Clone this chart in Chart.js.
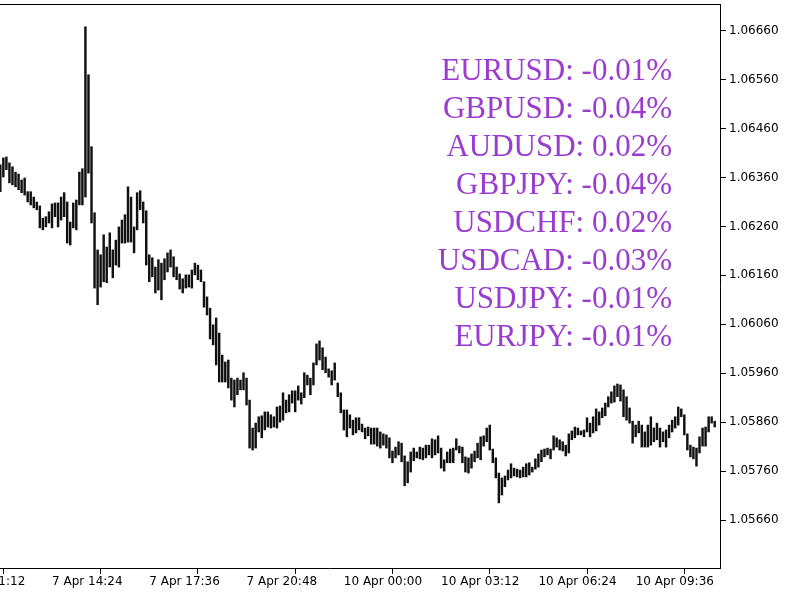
<!DOCTYPE html>
<html>
<head>
<meta charset="utf-8">
<script src="https://cdn.jsdelivr.net/npm/chart.js@4/dist/chart.umd.min.js"></script>
<style>
  html, body { margin: 0; padding: 0; background: #fff; overflow: hidden; width: 800px; height: 600px; }
  #wrap { position: absolute; left: -60px; top: 0; width: 860px; height: 600px; }
</style>
</head>
<body>
<div id="wrap"><canvas id="myChart" width="860" height="600"></canvas></div>
<script>
// M6 bars, high / low per bar
const highs = [
  1.06386, 1.06400, 1.06402, 1.06390, 1.06382, 1.06371, 1.06367, 1.06355, 1.06359, 1.06331,
  1.06331, 1.06320, 1.06310, 1.06302, 1.06277, 1.06280, 1.06290, 1.06306, 1.06308, 1.06308,
  1.06320, 1.06329, 1.06310, 1.06269, 1.06308, 1.06314, 1.06371, 1.06378, 1.06668, 1.06570,
  1.06423, 1.06288, 1.06212, 1.06202, 1.06243, 1.06218, 1.06247, 1.06212, 1.06232, 1.06259,
  1.06273, 1.06284, 1.06341, 1.06320, 1.06259, 1.06329, 1.06333, 1.06310, 1.06292, 1.06202,
  1.06196, 1.06177, 1.06192, 1.06185, 1.06194, 1.06206, 1.06212, 1.06198, 1.06177, 1.06163,
  1.06153, 1.06161, 1.06161, 1.06171, 1.06185, 1.06181, 1.06171, 1.06147, 1.06116, 1.06093,
  1.06059, 1.06073, 1.06042, 1.05997, 1.05983, 1.05987, 1.05950, 1.05946, 1.05950, 1.05946,
  1.05961, 1.05950, 1.05905, 1.05848, 1.05858, 1.05871, 1.05873, 1.05881, 1.05881, 1.05875,
  1.05871, 1.05891, 1.05893, 1.05920, 1.05905, 1.05916, 1.05924, 1.05924, 1.05934, 1.05920,
  1.05961, 1.05956, 1.05950, 1.05981, 1.06020, 1.06026, 1.06012, 1.05993, 1.05969, 1.05965,
  1.05981, 1.05940, 1.05920, 1.05885, 1.05885, 1.05875, 1.05864, 1.05869, 1.05869, 1.05856,
  1.05848, 1.05850, 1.05848, 1.05848, 1.05848, 1.05840, 1.05836, 1.05834, 1.05828, 1.05801,
  1.05809, 1.05820, 1.05817, 1.05791, 1.05779, 1.05799, 1.05807, 1.05799, 1.05809, 1.05807,
  1.05813, 1.05813, 1.05826, 1.05824, 1.05832, 1.05807, 1.05783, 1.05799, 1.05805, 1.05807,
  1.05826, 1.05811, 1.05809, 1.05789, 1.05787, 1.05795, 1.05801, 1.05817, 1.05830, 1.05832,
  1.05848, 1.05854, 1.05805, 1.05787, 1.05756, 1.05746, 1.05750, 1.05762, 1.05775, 1.05766,
  1.05764, 1.05762, 1.05768, 1.05775, 1.05777, 1.05768, 1.05785, 1.05795, 1.05803, 1.05805,
  1.05807, 1.05805, 1.05832, 1.05828, 1.05824, 1.05820, 1.05813, 1.05836, 1.05842, 1.05850,
  1.05848, 1.05842, 1.05844, 1.05869, 1.05858, 1.05871, 1.05887, 1.05881, 1.05889, 1.05899,
  1.05912, 1.05922, 1.05934, 1.05938, 1.05936, 1.05926, 1.05912, 1.05889, 1.05862, 1.05854,
  1.05862, 1.05854, 1.05840, 1.05854, 1.05871, 1.05848, 1.05858, 1.05848, 1.05840, 1.05844,
  1.05854, 1.05864, 1.05871, 1.05891, 1.05887, 1.05875, 1.05836, 1.05813, 1.05809, 1.05807,
  1.05830, 1.05848, 1.05850, 1.05871, 1.05871, 1.05862
]
const lows = [
  1.06331, 1.06361, 1.06376, 1.06349, 1.06345, 1.06341, 1.06335, 1.06329, 1.06324, 1.06310,
  1.06304, 1.06298, 1.06294, 1.06257, 1.06253, 1.06259, 1.06267, 1.06257, 1.06280, 1.06259,
  1.06273, 1.06280, 1.06226, 1.06222, 1.06257, 1.06253, 1.06304, 1.06304, 1.06320, 1.06369,
  1.06267, 1.06134, 1.06100, 1.06136, 1.06147, 1.06145, 1.06177, 1.06155, 1.06181, 1.06177,
  1.06226, 1.06226, 1.06228, 1.06228, 1.06206, 1.06253, 1.06294, 1.06267, 1.06181, 1.06147,
  1.06157, 1.06124, 1.06130, 1.06110, 1.06151, 1.06167, 1.06177, 1.06157, 1.06151, 1.06132,
  1.06124, 1.06134, 1.06136, 1.06134, 1.06161, 1.06151, 1.06147, 1.06095, 1.06079, 1.06030,
  1.06018, 1.05977, 1.05942, 1.05942, 1.05942, 1.05930, 1.05905, 1.05891, 1.05916, 1.05926,
  1.05926, 1.05895, 1.05807, 1.05803, 1.05807, 1.05840, 1.05828, 1.05844, 1.05850, 1.05848,
  1.05850, 1.05848, 1.05860, 1.05864, 1.05879, 1.05881, 1.05899, 1.05881, 1.05905, 1.05897,
  1.05910, 1.05936, 1.05916, 1.05936, 1.05977, 1.05987, 1.05967, 1.05961, 1.05952, 1.05936,
  1.05946, 1.05912, 1.05879, 1.05844, 1.05830, 1.05848, 1.05834, 1.05838, 1.05844, 1.05840,
  1.05826, 1.05832, 1.05815, 1.05815, 1.05811, 1.05807, 1.05813, 1.05807, 1.05787, 1.05777,
  1.05787, 1.05793, 1.05779, 1.05730, 1.05736, 1.05758, 1.05781, 1.05787, 1.05785, 1.05783,
  1.05787, 1.05793, 1.05787, 1.05793, 1.05797, 1.05766, 1.05760, 1.05777, 1.05777, 1.05777,
  1.05803, 1.05797, 1.05777, 1.05758, 1.05756, 1.05766, 1.05779, 1.05787, 1.05783, 1.05811,
  1.05820, 1.05803, 1.05777, 1.05746, 1.05695, 1.05711, 1.05728, 1.05742, 1.05746, 1.05750,
  1.05748, 1.05746, 1.05748, 1.05748, 1.05752, 1.05758, 1.05764, 1.05768, 1.05779, 1.05789,
  1.05793, 1.05785, 1.05803, 1.05809, 1.05803, 1.05801, 1.05791, 1.05797, 1.05824, 1.05828,
  1.05834, 1.05834, 1.05830, 1.05840, 1.05830, 1.05838, 1.05842, 1.05854, 1.05869, 1.05873,
  1.05891, 1.05899, 1.05901, 1.05912, 1.05903, 1.05871, 1.05864, 1.05858, 1.05817, 1.05830,
  1.05838, 1.05809, 1.05809, 1.05809, 1.05813, 1.05820, 1.05824, 1.05809, 1.05820, 1.05809,
  1.05828, 1.05840, 1.05848, 1.05854, 1.05871, 1.05834, 1.05803, 1.05789, 1.05785, 1.05770,
  1.05797, 1.05811, 1.05811, 1.05840, 1.05858, 1.05850
]

// time axis: bar index of each label
const tickBars = [-15, 17, 49, 81, 113, 145, 177, 209]
const tickLabels = ['7 Apr 11:12', '7 Apr 14:24', '7 Apr 17:36', '7 Apr 20:48',
  '10 Apr 00:00', '10 Apr 03:12', '10 Apr 06:24', '10 Apr 09:36']
const priceTicks = [1.0566, 1.0576, 1.0586, 1.0596, 1.0606, 1.0616, 1.0626, 1.0636, 1.0646, 1.0656, 1.0666]

// overlay text
const pairs = ['EURUSD', 'GBPUSD', 'AUDUSD', 'GBPJPY', 'USDCHF', 'USDCAD', 'USDJPY', 'EURJPY']
const changes = ['-0.01%', '-0.04%', '0.02%', '-0.04%', '0.02%', '-0.03%', '-0.01%', '-0.01%']

const axisFont = { family: 'DejaVu Sans', size: 12 }

const overlay = {
  id: 'overlay',
  afterDraw(chart) {
    const ctx = chart.ctx
    const a = chart.chartArea
    ctx.save()
    // top frame line
    ctx.strokeStyle = '#000'
    ctx.lineWidth = 1
    ctx.beginPath()
    ctx.moveTo(a.left, a.top + 0.5)
    ctx.lineTo(a.right, a.top + 0.5)
    ctx.stroke()
    // change list
    ctx.fillStyle = '#9a3ccf'
    ctx.font = '31px "Liberation Serif"'
    ctx.textAlign = 'right'
    ctx.textBaseline = 'alphabetic'
    for (let i = 0; i < pairs.length; i++) {
      ctx.fillText(pairs[i] + ': ' + changes[i], a.right - 48, 80 + 38 * i)
    }
    ctx.restore()
  }
}

const ctx = document.getElementById('myChart').getContext('2d')
const chart = new Chart(ctx, {
  type: 'bar',
  data: {
    datasets: [{
      data: highs.map((h, i) => ({ x: i, y: [lows[i], h] })),
      backgroundColor: '#111',
      borderWidth: 0,
      barThickness: 1.8,
      minBarLength: 1
    }]
  },
  options: {
    responsive: false,
    animation: false,
    devicePixelRatio: 1,
    layout: { padding: { top: 4, left: 0, right: 0, bottom: 0 } },
    plugins: { legend: { display: false }, tooltip: { enabled: false } },
    scales: {
      x: {
        type: 'linear',
        position: 'bottom',
        min: -19.84,
        max: 236.74,
        offset: false,
        grid: { drawOnChartArea: false, drawTicks: true, tickLength: 6, color: '#000' },
        border: { display: true, color: '#000' },
        ticks: {
          align: 'start',
          autoSkip: false,
          maxRotation: 0,
          padding: 1,
          color: '#000',
          font: axisFont,
          callback: v => tickLabels[tickBars.indexOf(v)]
        },
        afterBuildTicks: s => { s.ticks = tickBars.map(v => ({ value: v })) },
        afterFit: s => { s.height = 32 }
      },
      y: {
        type: 'linear',
        position: 'right',
        min: 1.055619,
        max: 1.067146,
        grid: { drawOnChartArea: false, drawTicks: true, tickLength: 6, color: '#000' },
        border: { display: true, color: '#000' },
        ticks: {
          padding: 3,
          color: '#000',
          font: axisFont,
          callback: v => v.toFixed(5)
        },
        afterBuildTicks: s => { s.ticks = priceTicks.map(v => ({ value: v })) },
        afterFit: s => {
          s.width = 80
          s.paddingTop = 0
          s.paddingBottom = 0
        }
      }
    }
  },
  plugins: [overlay]
})
</script>
</body>
</html>
